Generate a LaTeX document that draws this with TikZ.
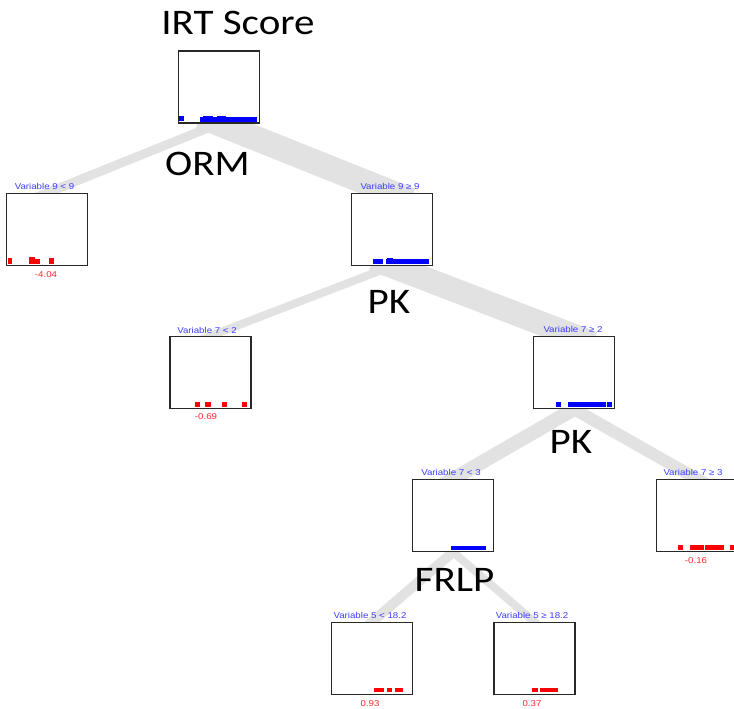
\documentclass[tikz,border=0pt]{standalone}
\usepackage{fontspec}
\setmainfont{Liberation Sans}
\newfontfamily\bigfont[FakeStretch=1.14]{Carlito}
\newfontfamily\smallfont[FakeStretch=1.14]{Liberation Sans}
\usetikzlibrary{calc,backgrounds}
\definecolor{bandgray}{RGB}{226,226,226}
\definecolor{condblue}{RGB}{60,60,255}
\definecolor{valred}{RGB}{255,40,40}
\definecolor{boxline}{RGB}{40,40,40}
\begin{document}
\begin{tikzpicture}[x=1pt,y=-1pt,
  treebox/.style={draw=boxline, fill=white, line width=1.2pt, minimum width=81pt, minimum height=72pt, inner sep=0pt},
  cond/.style={text=condblue, font=\smallfont\fontsize{8.5}{9}\selectfont, inner sep=0pt},
  val/.style={text=valred, font=\smallfont\fontsize{8.5}{9}\selectfont, inner sep=0pt},
  splitlab/.style={font=\bigfont\fontsize{36}{40}\selectfont, anchor=base, inner sep=0pt},
  band/.style={draw=bandgray, line cap=butt},
  bluebar/.style={fill=blue},
  redbar/.style={fill=red}]
\useasboundingbox (0,0) rectangle (734,709);
\clip (0,0) rectangle (734,709);

% boxes
\node[treebox] (root) at (219,87) {};
\node[treebox] (n1) at (47,229.5) {};
\node[treebox] (n2) at (392,229.5) {};
\node[treebox] (n3) at (210.5,372.5) {};
\node[treebox] (n4) at (574,372.5) {};
\node[treebox] (n5) at (453,515.5) {};
\node[treebox] (n6) at (697,515.5) {};
\node[treebox] (n7) at (372,658.5) {};
\node[treebox] (n8) at (534.5,658.5) {};

% bands
\begin{pgfonlayer}{background}
\draw[band, line width=9pt]  ($(root.south)!-20pt!(n1.north)$) -- ($(n1.north)!-20pt!(root.south)$);
\draw[band, line width=25pt] ($(root.south)!-20pt!(n2.north)$) -- ($(n2.north)!-20pt!(root.south)$);
\draw[band, line width=8pt]  ($(n2.south)!-20pt!(n3.north)$) -- ($(n3.north)!-20pt!(n2.south)$);
\draw[band, line width=24pt] ($(n2.south)!-20pt!(n4.north)$) -- ($(n4.north)!-20pt!(n2.south)$);
\draw[band, line width=14pt] ($(n4.south)!-20pt!(n5.north)$) -- ($(n5.north)!-20pt!(n4.south)$);
\draw[band, line width=12pt] ($(n4.south)!-20pt!(n6.north)$) -- ($(n6.north)!-20pt!(n4.south)$);
\draw[band, line width=10pt] ($(n5.south)!-20pt!(n7.north)$) -- ($(n7.north)!-20pt!(n5.south)$);
\draw[band, line width=8pt]  ($(n5.south)!-20pt!(n8.north)$) -- ($(n8.north)!-20pt!(n5.south)$);
\end{pgfonlayer}

% bars
\fill[bluebar] (179,116) rectangle (184,121);
\fill[bluebar] (200,117) rectangle (257,121.5);
\fill[bluebar] (203,115.5) rectangle (213,117);
\fill[bluebar] (217,115.5) rectangle (226,117);

\fill[redbar] (8,258) rectangle (12,264);
\fill[redbar] (29,257) rectangle (35,264);
\fill[redbar] (35,259) rectangle (40,264);
\fill[redbar] (49,258) rectangle (54,264);

\fill[bluebar] (373,259) rectangle (383,264);
\fill[bluebar] (386,259) rectangle (429,264);
\fill[bluebar] (387,257.5) rectangle (393,259);

\fill[redbar] (195,402) rectangle (200,407);
\fill[redbar] (205,402) rectangle (211,407);
\fill[redbar] (222,402) rectangle (227,407);
\fill[redbar] (242,402) rectangle (247,407);

\fill[bluebar] (556,402) rectangle (561,407);
\fill[bluebar] (568,402) rectangle (606,407);
\fill[bluebar] (607,402) rectangle (612,407);

\fill[bluebar] (451,545.5) rectangle (486,549.5);

\fill[redbar] (678,545) rectangle (683,549.5);
\fill[redbar] (690,545) rectangle (704,549.5);
\fill[redbar] (705,545) rectangle (724,549.5);
\fill[redbar] (730,545) rectangle (737,549.5);

\fill[redbar] (374,688) rectangle (384,692);
\fill[redbar] (387,688) rectangle (392,692);
\fill[redbar] (395,688) rectangle (403,692);

\fill[redbar] (532,688) rectangle (538,692);
\fill[redbar] (540,688) rectangle (558,692);

% condition labels
\node[cond] (c1) at (44.5,186) {Variable 9 < 9};
\node[cond] (c2) at (390,186) {Variable 9 ≥ 9};
\node[cond] (c3) at (207,330) {Variable 7 < 2};
\node[cond] (c4) at (573,329.5) {Variable 7 ≥ 2};
\node[cond] (c5) at (451,472) {Variable 7 < 3};
\node[cond] (c6) at (693,472) {Variable 7 ≥ 3};
\node[cond] (c7) at (370,615) {Variable 5 < 18.2};
\node[cond] (c8) at (532,615) {Variable 5 ≥ 18.2};

% values
\node[val] (v1) at (46,274.5) {-4.04};
\node[val] (v3) at (206,417) {-0.69};
\node[val] (v6) at (696,560.5) {-0.16};
\node[val] (v7) at (370,704) {0.93};
\node[val] (v8) at (532,704) {0.37};

% split labels
\node[splitlab] (s0) at (238,35) {IRT Score};
\node[splitlab] (s1) at (207.5,175.5) {ORM};
\node[splitlab] (s2) at (389,313) {PK};
\node[splitlab] (s3) at (571,453) {PK};
\node[splitlab] (s4) at (454.5,591) {FRLP};
\end{tikzpicture}
\end{document}
